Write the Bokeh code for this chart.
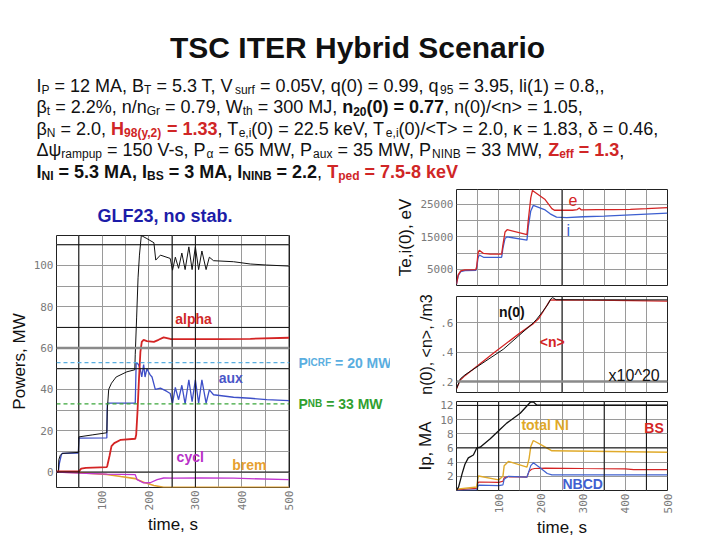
import math
from bokeh.plotting import figure
from bokeh.models import (Range1d, Label, Span, FixedTicker, SingleIntervalTicker,
                          CustomJSTickFormatter, ColumnDataSource)
from bokeh.core.properties import value, field
from bokeh.layouts import column, row
from bokeh.embed import file_html
from bokeh.resources import INLINE

# ---------------- data: powers panel ----------------
t_total = [2, 6, 7, 10, 14, 49, 50, 80, 110, 111, 114, 120, 130, 153, 170, 171, 174, 177, 180, 184,
           196, 211, 215, 225, 246, 251, 257, 264, 271, 278, 286, 293, 300, 307, 314, 323, 330, 339,
           382, 418, 453, 501]
p_total = [0, 0, 6, 8, 9, 9.5, 17, 18, 19, 30, 40, 43, 46, 48.5, 49.5, 57, 75, 94, 105, 114.5,
           113, 111, 102.6, 105, 103.4, 97.7, 104, 98.6, 106, 98, 109, 98, 109, 98, 107, 98, 104, 102.3,
           101.8, 100.7, 100.2, 99.7]
t_aux = [2, 6, 8, 12, 14, 49, 50, 110, 111, 171, 173, 178, 182, 185, 189, 192, 196, 203, 207, 214,
         225, 239, 246, 251, 257, 264, 271, 278, 286, 293, 300, 307, 314, 323, 330, 339, 382, 418, 453, 501]
p_aux = [0, 0, 4, 8, 9, 9.2, 16.4, 16.5, 33.3, 33.3, 53, 52, 49.5, 46, 52, 46, 50, 47, 46, 40,
         40.6, 39, 38, 33.3, 41, 35, 42, 33, 44.6, 34, 44.6, 33.3, 44.6, 33.3, 39.8, 37.4, 36.2, 35.7, 35, 34.6]
t_alpha = [2, 50, 55, 65, 110, 111, 116, 120, 126, 140, 171, 173, 176, 179, 182, 185, 189, 196, 211,
           221, 232, 246, 282, 346, 418, 501]
p_alpha = [0.3, 0.3, 1.6, 2, 2.4, 3, 8, 12.5, 14, 15.6, 16.1, 18, 30, 45, 58, 63, 64, 63.4, 63,
           64, 65.2, 64.4, 64.3, 64.3, 64.5, 65]
t_cycl = [2, 50, 110, 171, 175, 189, 203, 218, 232, 253, 311, 382, 501]
p_cycl = [0, -0.5, -1, -1.3, -3.7, -5.3, -5.2, -3.7, -2.9, -3, -2.9, -3, -3.7]
t_brem = [2, 50, 110, 140, 171, 189, 211, 232, 501]
p_brem = [0, -0.3, -1.2, -2.2, -3.2, -5, -6.5, -7.4, -7.4]
p_icrf_ref = 53
p_nb_ref = 33

# ---------------- data: temperatures ----------------
t_te = [0, 4, 10, 20, 46, 48, 51, 54, 64, 80, 107, 110, 115, 120, 167, 170, 176, 180, 210, 226,
        232, 275, 286, 291, 296, 333, 372, 412, 451, 500]
te_e = [400, 3300, 4500, 4800, 4900, 6000, 10000, 10900, 9900, 9700, 9700, 12500, 16500, 17200, 15700,
        20000, 27000, 29300, 26500, 23700, 23200, 23200, 23400, 23900, 23300, 23400, 23400, 23500, 23700, 24000]
t_ti = [0, 4, 10, 20, 46, 48, 51, 54, 64, 107, 110, 115, 120, 167, 170, 176, 182, 210, 222, 237,
        261, 300, 350, 400, 450, 500]
te_i = [400, 3000, 4300, 4600, 4700, 5500, 8500, 9400, 8700, 8700, 11500, 14500, 15000, 14000, 18000,
        23000, 24700, 23300, 22100, 21100, 20900, 21200, 21400, 21700, 22000, 22300]

# ---------------- data: density ----------------
t_n0 = [0, 9, 20, 111, 182, 190, 205, 215, 224, 228, 236, 320, 500]
n_0 = [0.15, 0.218, 0.245, 0.42, 0.6, 0.625, 0.68, 0.72, 0.765, 0.772, 0.758, 0.757, 0.757]
t_navg = [0, 9, 20, 88, 150, 182, 195, 210, 222, 230, 372, 500]
n_avg = [0.15, 0.21, 0.24, 0.395, 0.53, 0.595, 0.63, 0.7, 0.755, 0.757, 0.753, 0.748]

# ---------------- data: currents ----------------
t_ip = [0, 5, 13, 20, 28, 40, 48, 56, 80, 103, 119, 151, 175, 182, 190, 500]
i_p = [0, 0.5, 2.3, 3.7, 4.6, 5, 6, 6.1, 7.3, 8.6, 9.5, 10.9, 12.45, 12.5, 12.05, 12.05]
t_ni = [0, 48, 50, 52, 100, 110, 113, 123, 167, 172, 176, 182, 202, 226, 500]
i_ni = [0.2, 0.5, 1.5, 2.05, 1.5, 2.0, 3.5, 4.1, 3.3, 4.5, 6.2, 7.05, 6.4, 5.6, 5.4]
t_bs = [0, 48, 50, 53, 100, 110, 113, 123, 167, 172, 178, 185, 210, 300, 400, 420, 500]
i_bs = [0.1, 0.3, 1.0, 1.2, 1.15, 1.3, 1.8, 1.95, 1.9, 2.7, 3.0, 3.1, 3.15, 3.1, 3.05, 2.95, 2.95]
t_nb = [0, 48, 50, 52, 100, 110, 113, 123, 167, 172, 176, 182, 198, 215, 226, 500]
i_nb = [0, 0.1, 0.5, 0.75, 0.7, 0.8, 1.6, 2.0, 1.9, 2.8, 3.5, 3.9, 3.2, 2.4, 2.2, 2.2]

x_ticks = [100, 200, 300, 400, 500]
p_ticks = [0, 20, 40, 60, 80, 100]
te_ticks = [5000, 15000, 25000]
n_ticks = [0.2, 0.4, 0.6]
ip_ticks = [2, 4, 6, 8, 10, 12]

# ---------------- styling helpers ----------------
FONT = "Liberation Sans"
MONO = "DejaVu Sans Mono"
RED = "#d02626"
BLACK = "#111111"

REG = {' ': 278, '!': 278, '%': 889, '(': 333, ')': 333, ',': 278, '-': 333, '.': 278, '/': 278,
       ':': 278, '<': 584, '=': 584, '>': 584, '^': 469,
       'A': 667, 'B': 667, 'C': 722, 'D': 722, 'E': 667, 'F': 611, 'G': 778, 'H': 722, 'I': 278,
       'J': 500, 'K': 667, 'L': 556, 'M': 833, 'N': 722, 'O': 778, 'P': 667, 'R': 722, 'S': 667,
       'T': 611, 'V': 667, 'W': 944, 'Z': 611,
       'a': 556, 'b': 556, 'c': 500, 'd': 556, 'e': 556, 'f': 278, 'g': 556, 'h': 556, 'i': 222,
       'j': 222, 'k': 500, 'l': 222, 'm': 833, 'n': 556, 'o': 556, 'p': 556, 'q': 556, 'r': 333,
       's': 500, 't': 278, 'u': 556, 'v': 500, 'w': 722, 'x': 500, 'y': 500, 'z': 500,
       'β': 575, 'κ': 500, 'δ': 556, 'Δ': 668, 'ψ': 713, 'α': 578}
BOLD = {' ': 278, '(': 333, ')': 333, ',': 278, '-': 333, '.': 278, '=': 584,
        'A': 722, 'B': 722, 'C': 722, 'D': 722, 'E': 667, 'F': 611, 'G': 778, 'H': 722, 'I': 278,
        'L': 611, 'M': 833, 'N': 722, 'P': 667, 'R': 722, 'S': 667, 'T': 611, 'Z': 611,
        'a': 556, 'b': 611, 'c': 556, 'd': 611, 'e': 556, 'f': 333, 'g': 611, 'h': 611, 'i': 278,
        'k': 556, 'l': 278, 'm': 889, 'n': 611, 'o': 611, 'p': 611, 'r': 389, 's': 556, 't': 333,
        'u': 611, 'v': 556, 'x': 556, 'y': 556}


def tw(text, size, bold):
    tab = BOLD if bold else REG
    return sum(tab.get(c, 556) for c in text) * size / 1000.0


def run_cols(parts, x0, y0, size, sub_size, sub_drop, groups):
    """Lay out a run of text segments, grouped by colour; parts = (text, sub, bold, color)."""
    off = 0.0
    for txt, sub, bold, color in parts:
        s = sub_size if sub else size
        lead = len(txt) - len(txt.lstrip(' '))
        off += tw(' ' * lead, s, bold)
        body = txt.lstrip(' ')
        cols = groups.setdefault(color, {"x": [], "y": [], "text": [], "size": [], "style": []})
        cols["x"].append(x0 + off)
        cols["y"].append(y0 + (sub_drop if sub else 0))
        cols["text"].append(body)
        cols["size"].append(f"{s}px")
        cols["style"].append("bold" if bold else "normal")
        off += tw(body, s, bold)


def draw_groups(fig, groups, baseline):
    for color, cols in groups.items():
        fig.text(x="x", y="y", text="text", source=ColumnDataSource(cols), text_color=color,
                 text_font_size=field("size"), text_font_style=field("style"), text_font=value(FONT),
                 text_baseline=baseline, text_align="left")


def style(p, xlabel, ylabel, yticks, show_x=True):
    p.background_fill_color = "white"
    p.border_fill_color = "white"
    p.outline_line_color = "#222222"
    p.outline_line_width = 1
    for ax in p.axis:
        ax.major_tick_in = 0
        ax.major_tick_out = 0
        ax.minor_tick_in = 0
        ax.minor_tick_out = 0
        ax.axis_line_color = None
        ax.major_label_text_font = MONO
        ax.major_label_text_color = "#7a7a7a"
        ax.major_label_text_font_size = "11px"
        ax.major_label_standoff = 3
        ax.axis_label_text_font = FONT
        ax.axis_label_text_font_style = "normal"
        ax.axis_label_text_font_size = "17px"
        ax.axis_label_text_color = BLACK
        ax.axis_label_standoff = 2
    p.yaxis.ticker = FixedTicker(ticks=yticks)
    p.yaxis.axis_label = ylabel
    p.xaxis.ticker = FixedTicker(ticks=x_ticks)
    p.xaxis.major_label_orientation = math.pi / 2
    p.xaxis.axis_label = xlabel
    if not show_x:
        p.xaxis.visible = False
    p.xgrid.ticker = SingleIntervalTicker(interval=50)
    for g in p.grid:
        g.grid_line_color = "#9a9a9a"
        g.grid_line_width = 1


def spans(p, hs=(), vs=(), color="#111111", width=1):
    for h in hs:
        p.add_layout(Span(location=h, dimension="width", line_color=color, line_width=width))
    for v in vs:
        p.add_layout(Span(location=v, dimension="height", line_color=color, line_width=width))


def lab(p, x, y, text, color, size=14, bold=True, align="center"):
    p.add_layout(Label(x=x, y=y, text=text, text_font=FONT, text_font_size=f"{size}px",
                       text_font_style="bold" if bold else "normal", text_color=color,
                       text_align=align, text_baseline="middle"))


# ---------------- header ----------------
hdr = figure(width=720, height=186, x_range=Range1d(0, 720), y_range=Range1d(186, 0),
             output_backend="svg", toolbar_location=None, min_border=0, title=None,
             x_axis_location=None, y_axis_location=None)
hdr.grid.visible = False
hdr.outline_line_color = None
hdr.add_layout(Label(x=357, y=47, text="TSC ITER Hybrid Scenario", text_font=FONT,
                     text_font_size="30px", text_font_style="bold", text_color=BLACK,
                     text_align="center", text_baseline="alphabetic"))
K = BLACK
lines = [
    [("I", 0, 0, K), ("P", 1, 0, K), (" = 12 MA, B", 0, 0, K), ("T", 1, 0, K), (" = 5.3 T, V", 0, 0, K),
     ("surf", 1, 0, K), (" = 0.05V, q(0) = 0.99, q", 0, 0, K), ("95", 1, 0, K), (" = 3.95, li(1) = 0.8,,", 0, 0, K)],
    [("β", 0, 0, K), ("t", 1, 0, K), (" = 2.2%, n/n", 0, 0, K), ("Gr", 1, 0, K), (" = 0.79, W", 0, 0, K),
     ("th", 1, 0, K), (" = 300 MJ, ", 0, 0, K), ("n", 0, 1, K), ("20", 1, 1, K), ("(0) = 0.77", 0, 1, K),
     (", n(0)/<n> = 1.05,", 0, 0, K)],
    [("β", 0, 0, K), ("N", 1, 0, K), (" = 2.0, ", 0, 0, K), ("H", 0, 1, RED), ("98(y,2)", 1, 1, RED),
     (" = 1.33", 0, 1, RED), (", T", 0, 0, K), ("e,i", 1, 0, K), ("(0) = 22.5 keV, T", 0, 0, K),
     ("e,i", 1, 0, K), ("(0)/<T> = 2.0, κ = 1.83, δ = 0.46,", 0, 0, K)],
    [("Δψ", 0, 0, K), ("rampup", 1, 0, K), (" = 150 V-s, P", 0, 0, K), ("α", 1, 0, K), (" = 65 MW, P", 0, 0, K),
     ("aux", 1, 0, K), (" = 35 MW, P", 0, 0, K), ("NINB", 1, 0, K), (" = 33 MW, ", 0, 0, K),
     ("Z", 0, 1, RED), ("eff", 1, 1, RED), (" = 1.3", 0, 1, RED), (",", 0, 0, K)],
    [("I", 0, 1, K), ("NI", 1, 1, K), (" = 5.3 MA, I", 0, 1, K), ("BS", 1, 1, K), (" = 3 MA, I", 0, 1, K),
     ("NINB", 1, 1, K), (" = 2.2", 0, 1, K), (", ", 0, 0, K), ("T", 0, 1, RED), ("ped", 1, 1, RED),
     (" = 7.5-8 keV", 0, 1, RED)],
]
hgroups = {}
for i, ln in enumerate(lines):
    run_cols(ln, 36, 85 + 21.5 * i, 18, 12, 4, hgroups)
draw_groups(hdr, hgroups, "alphabetic")

# ---------------- left: powers ----------------
p_range = Range1d(-7.5, 114.5)
pw = figure(width=297, height=354, x_range=Range1d(2, 502), y_range=p_range,
            output_backend="svg", toolbar_location=None, title="GLF23, no stab.",
            min_border_left=56, min_border_right=8, min_border_top=49, min_border_bottom=53)
style(pw, "time, s", "Powers, MW", p_ticks)
pw.ygrid.ticker = SingleIntervalTicker(interval=10)
pw.title.text_font = FONT
pw.title.text_font_size = "18px"
pw.title.text_font_style = "bold"
pw.title.text_color = "#1c1ca8"
pw.title.align = "left"
pw.title.offset = 41
pw.title.standoff = 19
spans(pw, hs=[0, 50, 70, 110], vs=[50, 250, 300])
spans(pw, hs=[60], color="#8a8a8a", width=2.5)
pw.add_layout(Span(location=p_icrf_ref, dimension="width", line_color="#5aaee0", line_width=1.3, line_dash="4 3"))
pw.add_layout(Span(location=p_nb_ref, dimension="width", line_color="#3aa63a", line_width=1.3, line_dash="4 3"))
pw.line(t_brem, p_brem, line_color="#e3a22e", line_width=1.6)
pw.line(t_cycl, p_cycl, line_color="#c034d0", line_width=1.3)
pw.line(t_aux, p_aux, line_color="#3d4fc8", line_width=1.3)
pw.line(t_total, p_total, line_color=BLACK, line_width=1.0)
pw.line(t_alpha, p_alpha, line_color="#d42424", line_width=1.8)
lab(pw, 296, 74.3, "alpha", "#d02828")
lab(pw, 376, 45.3, "aux", "#4a56c8")
lab(pw, 289, 7.1, "cycl", "#b830c8")
lab(pw, 416, 3.5, "brem", "#e6a030")

# side strip sharing the power scale, for the reference-line labels
side = figure(width=93, height=354, x_range=Range1d(0, 93), y_range=p_range,
              output_backend="svg", toolbar_location=None, min_border_left=0, min_border_right=0,
              min_border_top=49, min_border_bottom=53, x_axis_location=None, y_axis_location=None)
side.grid.visible = False
side.outline_line_color = None
sgroups = {}
run_cols([("P", 0, 1, "#5aaee0"), ("ICRF", 1, 1, "#5aaee0"), (" = 20 MW", 0, 1, "#5aaee0")],
         1, p_icrf_ref, 14, 10, 0, sgroups)
run_cols([("P", 0, 1, "#30a030"), ("NB", 1, 1, "#30a030"), (" = 33 MW", 0, 1, "#30a030")],
         1, p_nb_ref, 14, 10, 0, sgroups)
draw_groups(side, sgroups, "middle")

# ---------------- right panels ----------------
xr = Range1d(0, 500)

te = figure(width=330, height=104, x_range=xr, y_range=Range1d(0, 29600), output_backend="svg",
            toolbar_location=None, min_border_left=66, min_border_right=53, min_border_top=3,
            min_border_bottom=5)
style(te, "", "Te,i(0), eV", te_ticks, show_x=False)
te.ygrid.ticker = SingleIntervalTicker(interval=5000)
spans(te, vs=[250])
te.line(t_ti, te_i, line_color="#3d5fd0", line_width=1.3)
te.line(t_te, te_e, line_color="#d42424", line_width=1.3)
lab(te, 276, 26300, "e", "#d42424", size=16, bold=False)
lab(te, 265, 17000, "i", "#3d5fd0", size=16, bold=False)

nd = figure(width=330, height=107, x_range=xr, y_range=Range1d(0.125, 0.78), output_backend="svg",
            toolbar_location=None, min_border_left=66, min_border_right=53, min_border_top=6,
            min_border_bottom=5)
style(nd, "", "n(0), <n>, /m3", n_ticks, show_x=False)
nd.yaxis.formatter = CustomJSTickFormatter(code="return tick.toFixed(1).replace(/^0/, '');")
nd.yaxis.axis_label_text_font_size = "16px"
nd.ygrid.ticker = SingleIntervalTicker(interval=0.2)
spans(nd, vs=[250])
spans(nd, hs=[0.2], color="#8a8a8a", width=2.5)
nd.line(t_navg, n_avg, line_color="#d42424", line_width=1.3)
nd.line(t_n0, n_0, line_color=BLACK, line_width=1.0)
lab(nd, 131, 0.673, "n(0)", BLACK, size=14)
lab(nd, 227, 0.468, "<n>", "#d42424", size=14)
lab(nd, 421, 0.241, "x10^20", BLACK, size=16, bold=False)

ipf = figure(width=330, height=143, x_range=xr, y_range=Range1d(0, 12.55), output_backend="svg",
             toolbar_location=None, min_border_left=66, min_border_right=53, min_border_top=4,
             min_border_bottom=46)
style(ipf, "time, s", "Ip, MA", ip_ticks)
ipf.ygrid.ticker = SingleIntervalTicker(interval=2)
spans(ipf, hs=[6, 12], vs=[50, 100, 350, 450])
ipf.line(t_bs, i_bs, line_color="#d42424", line_width=1.2)
ipf.line(t_nb, i_nb, line_color="#4062d0", line_width=1.2)
ipf.line(t_ni, i_ni, line_color="#e0aa2a", line_width=1.4)
ipf.line(t_ip, i_p, line_color=BLACK, line_width=1.3)
lab(ipf, 210, 9.2, "total NI", "#e0a828")
lab(ipf, 468, 8.85, "BS", "#d42424")
lab(ipf, 299, 0.96, "NBCD", "#4060d0")

layout = column(hdr, row(pw, side, column(te, nd, ipf)))
open("out.html", "w").write(file_html(layout, INLINE))
